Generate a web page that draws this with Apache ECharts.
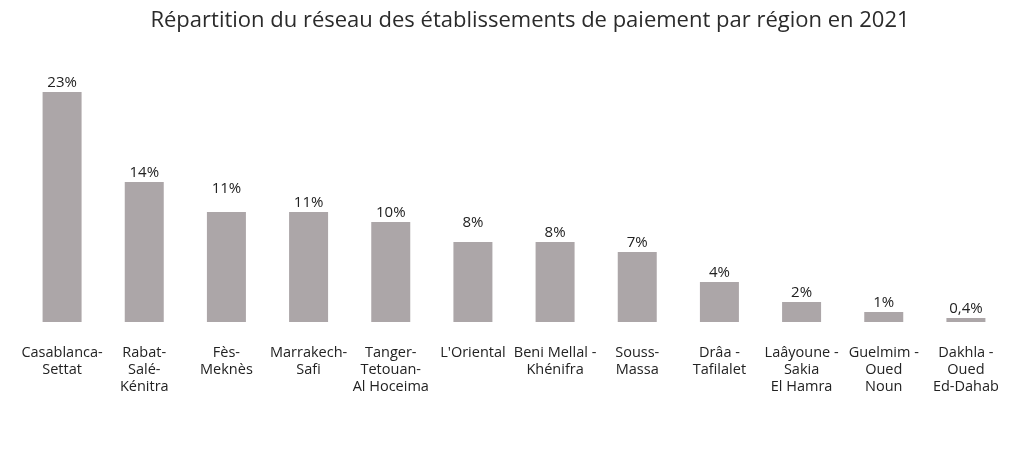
<!DOCTYPE html>
<html>
<head>
<meta charset="utf-8">
<script src="https://cdn.jsdelivr.net/npm/echarts@6/dist/echarts.min.js"></script>
<style>html,body{margin:0;padding:0;background:#fff}#c{width:1024px;height:467px}</style>
</head>
<body>
<div id="c"></div>
<script>
const categories = [
  "Casablanca-\nSettat", "Rabat-\nSalé-\nKénitra", "Fès-\nMeknès", "Marrakech-\nSafi",
  "Tanger-\nTetouan-\nAl Hoceima", "L'Oriental", "Beni Mellal -\nKhénifra", "Souss-\nMassa",
  "Drâa -\nTafilalet", "Laâyoune -\nSakia\nEl Hamra", "Guelmim -\nOued\nNoun", "Dakhla -\nOued\nEd-Dahab"
];
const values = [23, 14, 11, 11, 10, 8, 8, 7, 4, 2, 1, 0.4];
const valueLabels = ["23%", "14%", "11%", "11%", "10%", "8%", "8%", "7%", "4%", "2%", "1%", "0,4%"];

// label spacing above bars as in the original layout (style only)
const labelGap = { 2: 16, 5: 12 };

const chart = echarts.init(document.getElementById('c'));
chart.setOption({
  backgroundColor: '#fff',
  title: {
    text: 'Répartition du réseau des établissements de paiement par région en 2021',
    left: 525, top: 5, textAlign: 'center',
    textStyle: { fontFamily: 'Open Sans', fontSize: 22, fontWeight: 'normal', color: '#2b2b2b' }
  },
  grid: { left: 21, right: 17, top: 92, bottom: 145, containLabel: false },
  xAxis: {
    type: 'category', data: categories,
    axisLine: { show: false }, axisTick: { show: false },
    axisLabel: { interval: 0, margin: 22, fontFamily: 'Open Sans', fontSize: 14.5, lineHeight: 17, color: '#222', align: 'center' }
  },
  yAxis: { type: 'value', min: 0, max: 23, show: false, splitLine: { show: false } },
  series: [{
    type: 'bar',
    data: values.map((v, i) => labelGap[i] ? { value: v, label: { distance: labelGap[i] } } : v),
    barWidth: 39,
    itemStyle: { color: '#aca6a8' },
    label: {
      show: true, position: 'top', distance: 2,
      fontFamily: 'Open Sans', fontSize: 15, color: '#222',
      formatter: p => valueLabels[p.dataIndex]
    },
    animation: false
  }],
  animation: false
});
</script>
</body>
</html>
